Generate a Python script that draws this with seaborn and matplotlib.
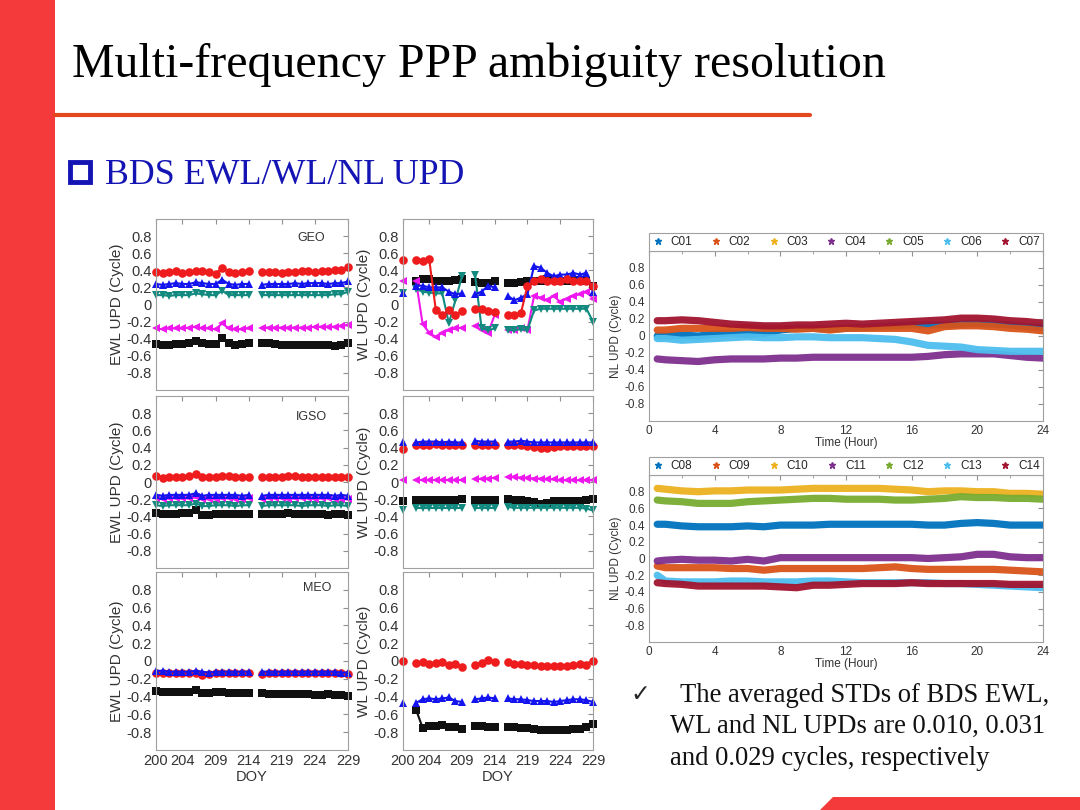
import pandas as pd
import matplotlib
matplotlib.use('Agg')
import matplotlib.pyplot as plt
from matplotlib.lines import Line2D
from matplotlib.patches import Rectangle, Polygon
import seaborn as sns

N = None

# day of year for the left panels
doy = list(range(200, 230))

# EWL UPD, GEO
ewl_geo_red = [.38, .37, .38, .39, .37, .38, .39, .39, .38, .36, .43, .38, .37, .38, .39, N,
               .38, .38, .38, .37, .38, .38, .39, .39, .38, .39, .39, .40, .40, .44]
ewl_geo_blue = [.24, .23, .24, .25, .24, .24, .26, .25, .24, .24, .29, .24, .23, .24, .24, N,
                .23, .24, .24, .24, .24, .25, .24, .25, .25, .25, .24, .25, .25, .27]
ewl_geo_teal = [.11, .11, .10, .11, .11, .11, .13, .12, .11, .11, .16, .11, .11, .11, .11, N,
                .11, .11, .11, .11, .11, .11, .11, .11, .11, .11, .11, .12, .12, .15]
ewl_geo_mag = [-.28, -.29, -.28, -.28, -.28, -.27, -.26, -.28, -.28, -.29, -.22, -.28, -.29, -.29, -.28, N,
               -.27, -.27, -.27, -.27, -.27, -.27, -.27, -.27, -.26, -.26, -.26, -.26, -.25, -.24]
ewl_geo_black = [-.46, -.47, -.47, -.46, -.46, -.45, -.43, -.45, -.46, -.46, -.39, -.45, -.47, -.46, -.45, N,
                 -.45, -.45, -.46, -.47, -.47, -.47, -.47, -.47, -.47, -.47, -.47, -.48, -.47, -.45]

# WL UPD, GEO
wl_geo_red = [.52, N, .52, .51, .53, -.06, -.12, -.07, -.12, -.08, N, -.05, -.05, -.08, -.09, N,
              -.12, -.12, -.10, .22, .27, .30, .28, .27, .28, .30, .27, .28, .27, .22]
wl_geo_blue = [.14, N, .22, .22, .20, .20, .20, .15, .12, .13, N, .12, .15, .22, .20, N,
               .10, .05, .08, .12, .45, .43, .37, .33, .35, .35, .37, .35, .37, .15]
wl_geo_teal = [.13, N, .18, .15, .14, .13, .13, -.22, .05, .33, N, .35, -.28, -.30, -.28, N,
               -.30, -.30, -.29, -.30, -.07, -.05, -.05, -.05, -.05, -.05, -.05, -.05, -.05, -.20]
wl_geo_mag = [.28, N, .27, -.23, -.33, -.38, -.33, -.30, -.28, -.27, N, -.25, -.30, -.33, -.12, N,
              -.30, -.30, -.27, -.30, .10, .08, .05, .10, .03, .07, .10, .12, .15, .07]
wl_geo_black = [N, N, .27, .30, .30, .27, .28, .28, .29, .30, N, .26, .25, .25, .27, N,
                .25, .25, .26, .27, .27, .28, .30, .29, .28, .28, .29, .29, .28, .22]

# EWL UPD, IGSO
ewl_igso_red = [.07, .05, .06, .06, .06, .07, .09, .06, .06, .06, .07, .07, .06, .06, .06, N,
                .06, .06, .06, .06, .07, .07, .06, .06, .06, .06, .06, .06, .06, .06]
ewl_igso_blue = [-.15, -.16, -.15, -.15, -.15, -.15, -.13, -.16, -.15, -.15, -.15, -.15, -.15, -.16, -.15, N,
                 -.16, -.15, -.15, -.15, -.15, -.15, -.15, -.15, -.15, -.15, -.15, -.16, -.15, -.16]
ewl_igso_mag = [-.19, -.20, -.19, -.19, -.19, -.19, -.18, -.20, -.20, -.20, -.19, -.19, -.20, -.20, -.19, N,
                -.20, -.19, -.19, -.19, -.20, -.19, -.19, -.19, -.20, -.19, -.19, -.20, -.20, -.20]
ewl_igso_teal = [-.27, -.28, -.27, -.27, -.27, -.27, -.25, -.28, -.28, -.27, -.27, -.27, -.28, -.27, -.27, N,
                 -.28, -.27, -.27, -.27, -.27, -.27, -.28, -.27, -.27, -.27, -.28, -.27, -.27, -.28]
ewl_igso_black = [-.36, -.37, -.37, -.37, -.36, -.36, -.33, -.38, -.38, -.37, -.37, -.37, -.37, -.37, -.37, N,
                  -.37, -.37, -.37, -.37, -.36, -.37, -.37, -.37, -.37, -.37, -.38, -.37, -.37, -.38]

# WL UPD, IGSO
wl_igso_blue = [.46, N, .46, .47, .47, .47, .46, .47, .46, .46, N, .48, .47, .47, .47, N,
                .47, .47, .48, .47, .46, .46, .46, .46, .46, .46, .46, .46, .46, .46]
wl_igso_red = [.38, N, .43, .43, .43, .44, .43, .43, .43, .43, N, .43, .43, .43, .43, N,
               .43, .43, .43, .42, .41, .40, .40, .41, .42, .42, .42, .42, .42, .42]
wl_igso_mag = [.02, N, .02, .02, .02, .02, .02, .02, .02, .02, N, .03, .04, .04, .05, N,
               .06, .06, .05, .05, .04, .04, .03, .03, .02, .02, .02, .02, .02, .02]
wl_igso_black = [-.22, N, -.21, -.21, -.21, -.21, -.21, -.21, -.21, -.20, N, -.21, -.21, -.21, -.21, N,
                 -.20, -.21, -.21, -.22, -.23, -.25, -.24, -.22, -.22, -.22, -.22, -.22, -.21, -.20]
wl_igso_teal = [-.33, N, -.30, -.30, -.30, -.30, -.30, -.30, -.30, -.30, N, -.30, -.30, -.30, -.30, N,
                -.29, -.30, -.30, -.30, -.30, -.30, -.30, -.30, -.30, -.30, -.30, -.30, -.31, -.33]

# EWL UPD, MEO
ewl_meo_red = [-.13, -.14, -.14, -.14, -.14, -.14, -.13, -.16, -.15, -.14, -.14, -.14, -.14, -.14, -.14, N,
               -.15, -.14, -.14, -.14, -.14, -.14, -.14, -.14, -.14, -.14, -.14, -.14, -.14, -.15]
ewl_meo_blue = [-.11, -.11, -.12, -.12, -.12, -.12, -.11, -.12, -.13, -.12, -.12, -.12, -.12, -.12, -.12, N,
                -.12, -.12, -.12, -.12, -.12, -.12, -.12, -.12, -.12, -.12, -.12, -.12, -.13, -.13]
ewl_meo_black = [-.34, -.35, -.35, -.35, -.35, -.35, -.33, -.36, -.36, -.35, -.35, -.36, -.36, -.36, -.36, N,
                 -.36, -.37, -.37, -.37, -.37, -.37, -.37, -.37, -.38, -.38, -.37, -.38, -.38, -.39]

# WL UPD, MEO
wl_meo_red = [.00, N, -.02, -.01, -.03, -.02, -.01, -.05, -.03, -.07, N, -.04, -.02, .01, -.01, N,
              -.01, -.03, -.03, -.04, -.05, -.06, -.06, -.06, -.06, -.06, -.05, -.03, -.04, .00]
wl_meo_blue = [-.47, N, -.47, -.43, -.42, -.43, -.42, -.41, -.45, -.46, N, -.43, -.42, -.41, -.42, N,
               -.42, -.43, -.43, -.44, -.45, -.45, -.45, -.46, -.45, -.44, -.43, -.43, -.44, -.46]
wl_meo_black = [N, N, -.55, -.75, -.73, -.73, -.72, -.74, -.74, -.76, N, -.73, -.73, -.74, -.74, N,
                -.74, -.74, -.75, -.75, -.76, -.77, -.77, -.78, -.77, -.77, -.76, -.76, -.74, -.71]

# NL UPD, hours of day
hours = [0.5, 1, 2, 3, 4, 5, 6, 7, 8, 9, 10, 11, 12, 13, 14, 15, 16, 17, 18, 19, 20, 21, 22, 23, 24]
c01 = [.00, .00, .01, .00, .02, .03, .02, .03, .07, .09, .09, .08, .09, .10, .11, .12, .13, .13, .13, .14, .15, .14, .13, .11, .10]
c02 = [.07, .07, .09, .09, .09, .09, .10, .09, .09, .08, .09, .07, .09, .09, .09, .09, .09, .06, .11, .12, .12, .11, .09, .08, .06]
c04 = [-.27, -.28, -.29, -.30, -.28, -.27, -.27, -.27, -.26, -.26, -.25, -.25, -.25, -.25, -.25, -.25, -.25, -.24, -.22, -.21, -.21, -.21, -.23, -.25, -.26]
c06 = [-.03, -.03, -.05, -.04, -.03, -.02, -.01, -.02, -.02, -.01, -.01, -.02, -.02, -.02, -.03, -.04, -.07, -.11, -.12, -.13, -.16, -.17, -.18, -.18, -.18]
c07 = [.18, .18, .19, .18, .16, .14, .13, .12, .12, .13, .13, .14, .15, .14, .15, .16, .17, .18, .19, .21, .21, .20, .18, .17, .15]
c08 = [.41, .41, .39, .38, .38, .38, .39, .38, .40, .40, .40, .41, .41, .41, .41, .41, .41, .40, .40, .42, .43, .42, .40, .40, .40]
c09 = [-.09, -.11, -.11, -.11, -.11, -.12, -.12, -.14, -.12, -.12, -.12, -.12, -.12, -.12, -.11, -.10, -.12, -.13, -.13, -.13, -.13, -.13, -.14, -.15, -.16]
c10 = [.84, .83, .81, .80, .81, .81, .82, .82, .82, .83, .84, .84, .84, .84, .84, .83, .82, .80, .81, .81, .80, .80, .78, .78, .77]
c11 = [-.03, -.02, -.01, -.02, -.02, -.03, -.01, -.03, .01, .01, .01, .01, .01, .01, .01, .01, .01, .00, .01, .02, .05, .05, .02, .01, .01]
c12 = [.70, .69, .68, .66, .66, .66, .68, .69, .70, .71, .72, .72, .71, .71, .71, .70, .70, .71, .72, .74, .73, .73, .72, .72, .71]
c13 = [-.20, -.27, -.28, -.28, -.28, -.27, -.27, -.28, -.28, -.28, -.27, -.27, -.28, -.29, -.29, -.29, -.29, -.29, -.30, -.30, -.31, -.32, -.33, -.34, -.35]
c14 = [-.29, -.30, -.31, -.33, -.33, -.33, -.33, -.33, -.34, -.35, -.32, -.32, -.31, -.30, -.30, -.30, -.29, -.30, -.30, -.30, -.30, -.30, -.31, -.31, -.31]

sat_top = ['C01', 'C02', 'C03', 'C04', 'C05', 'C06', 'C07']
sat_bot = ['C08', 'C09', 'C10', 'C11', 'C12', 'C13', 'C14']
mat_colors = ['#0072BD', '#D95319', '#EDB120', '#7E2F8E', '#77AC30', '#4DBEEE', '#A2142F']

ser_colors = {'red': '#ee1c1c', 'blue': '#1414ee', 'teal': '#128a80', 'mag': '#ee18ee', 'black': '#101010'}
ser_markers = {'red': 'o', 'blue': '^', 'teal': 'v', 'mag': '<', 'black': 's'}
day_ticks = [200, 204, 209, 214, 219, 224, 229]
y_ticks = [-0.8, -0.6, -0.4, -0.2, 0, 0.2, 0.4, 0.6, 0.8]
y_labels = ['-0.8', '-0.6', '-0.4', '-0.2', '0', '0.2', '0.4', '0.6', '0.8']

sns.set_style('white')
plt.rcParams['font.family'] = ['Liberation Sans', 'DejaVu Sans']

W, H = 1080, 810
fig = plt.figure(figsize=(10.8, 8.1), dpi=100)
fig.patch.set_facecolor('white')


def fbox(x0, y0, x1, y1):
    # pixel box (top-left origin) -> figure fraction rect
    return [x0 / W, 1 - y1 / H, (x1 - x0) / W, (y1 - y0) / H]


def panel_frame(series):
    rows = []
    for name, vals in series:
        seg = 0
        for d, v in zip(doy, vals):
            if v is None:
                seg += 1
                continue
            rows.append((d, v, name, seg))
    return pd.DataFrame(rows, columns=['DOY', 'UPD', 'ser', 'seg'])


def style_ax(ax, fs):
    for sp in ax.spines.values():
        sp.set_color('#a0a0a0')
        sp.set_linewidth(0.8)
    ax.tick_params(which='both', direction='in', top=True, right=True, color='#909090',
                   labelcolor='#333333', labelsize=fs, pad=3)
    ax.tick_params(which='major', length=3.5)
    ax.tick_params(which='minor', length=2)


panels = [
    ('EWL', 'GEO', fbox(156, 219, 348, 390), [('black', ewl_geo_black), ('mag', ewl_geo_mag), ('teal', ewl_geo_teal), ('blue', ewl_geo_blue), ('red', ewl_geo_red)], (0.81, 0.89)),
    ('WL', None, fbox(403, 219, 593, 390), [('black', wl_geo_black), ('mag', wl_geo_mag), ('teal', wl_geo_teal), ('blue', wl_geo_blue), ('red', wl_geo_red)], None),
    ('EWL', 'IGSO', fbox(156, 396, 348, 568), [('black', ewl_igso_black), ('teal', ewl_igso_teal), ('mag', ewl_igso_mag), ('blue', ewl_igso_blue), ('red', ewl_igso_red)], (0.81, 0.88)),
    ('WL', None, fbox(403, 396, 593, 568), [('black', wl_igso_black), ('teal', wl_igso_teal), ('mag', wl_igso_mag), ('red', wl_igso_red), ('blue', wl_igso_blue)], None),
    ('EWL', 'MEO', fbox(156, 572, 348, 750), [('black', ewl_meo_black), ('red', ewl_meo_red), ('blue', ewl_meo_blue)], (0.84, 0.91)),
    ('WL', None, fbox(403, 572, 593, 750), [('black', wl_meo_black), ('red', wl_meo_red), ('blue', wl_meo_blue)], None),
]

for i, (kind, tag, rect, series, tpos) in enumerate(panels):
    ax = fig.add_axes(rect)
    df = panel_frame(series)
    order = [s for s, _ in series]
    sns.lineplot(data=df, x='DOY', y='UPD', hue='ser', style='ser', units='seg', estimator=None,
                 hue_order=order, style_order=order, palette=ser_colors, markers=ser_markers,
                 dashes=False, legend=False, ax=ax, lw=1.5, markersize=6.2,
                 markeredgewidth=0, clip_on=False)
    ax.set_xlim(200, 229)
    ax.set_ylim(-1, 1)
    ax.set_xticks(day_ticks)
    ax.set_yticks(y_ticks)
    ax.set_yticklabels(y_labels)
    style_ax(ax, 10.5)
    ax.set_ylabel(kind + ' UPD (Cycle)', fontsize=11, color='#333333', labelpad=2)
    if i >= 4:
        ax.set_xlabel('DOY', fontsize=10.5, color='#333333', labelpad=1)
    else:
        ax.set_xlabel('')
        ax.set_xticklabels([])
    if tag:
        ax.text(tpos[0], tpos[1], tag, transform=ax.transAxes, ha='center', va='center',
                fontsize=9, color='#333333')

# NL UPD panels
nl_panels = [
    (fbox(649, 251, 1043, 421), sat_top, [('C01', c01), ('C02', c02), ('C04', c04), ('C06', c06), ('C07', c07)]),
    (fbox(649, 475, 1043, 642), sat_bot, [('C08', c08), ('C09', c09), ('C10', c10), ('C11', c11),
                                          ('C12', c12), ('C13', c13), ('C14', c14)]),
]

for rect, sats, series in nl_panels:
    ax = fig.add_axes(rect)
    pal = dict(zip(sats, mat_colors))
    rows = []
    for s, vals in series:
        for h, u in zip(hours, vals):
            rows.append((h, u, s))
    df = pd.DataFrame(rows, columns=['Hour', 'NL', 'sat'])
    sns.lineplot(data=df, x='Hour', y='NL', hue='sat', hue_order=[s for s, _ in series],
                 palette=pal, estimator=None, legend=False, ax=ax, lw=5.2, alpha=0.95)
    ax.set_xlim(0, 24)
    ax.set_ylim(-1, 1)
    ax.set_xticks([0, 4, 8, 12, 16, 20, 24])
    ax.set_xticks([2, 6, 10, 14, 18, 22], minor=True)
    ax.set_yticks(y_ticks)
    ax.set_yticklabels(y_labels)
    style_ax(ax, 8.5)
    ax.set_xlabel('Time (Hour)', fontsize=8.5, color='#333333', labelpad=0)
    ax.set_ylabel('NL UPD (Cycle)', fontsize=8.5, color='#333333', labelpad=2)
    handles = [Line2D([0], [0], ls='', marker='*', ms=5, color=pal[s]) for s in sats]
    leg = ax.legend(handles, sats, ncol=7, loc='lower left', bbox_to_anchor=(0, 1.0, 1, 0.1),
                    mode='expand', borderaxespad=0, fancybox=False, fontsize=8.5,
                    handlelength=1.0, handletextpad=0.6, borderpad=0.25, framealpha=1)
    leg.get_frame().set_edgecolor('#a0a0a0')
    leg.get_frame().set_linewidth(0.8)

# slide decoration
red = '#f43a3a'
fig.add_artist(Rectangle((0, 0), 55 / W, 1, transform=fig.transFigure, color=red, lw=0))
fig.add_artist(Line2D([55 / W, 810 / W], [1 - 115 / H, 1 - 115 / H], transform=fig.transFigure,
                      color='#e4481f', lw=3))
fig.add_artist(Polygon([(833 / W, 1 - 797 / H), (1, 1 - 797 / H), (1, 0), (820 / W, 0)],
                       closed=True, transform=fig.transFigure, color=red, lw=0))

fig.text(72 / W, 1 - 77 / H, 'Multi-frequency PPP ambiguity resolution', fontsize=34.5,
         family='Liberation Serif', va='baseline', color='black')

blue = '#1414b4'
fig.add_artist(Rectangle((70 / W, 1 - 182 / H), 20 / W, 20 / H, transform=fig.transFigure,
                         fill=False, ec=blue, lw=3.5))
fig.text(105 / W, 1 - 184 / H, 'BDS EWL/WL/NL UPD', fontsize=25.8,
         family='Liberation Serif', va='baseline', color=blue)

fig.text(630 / W, 1 - 701 / H, '\u2713', fontsize=17, family=['DejaVu Sans'], va='baseline')
note = ['The averaged STDs of BDS EWL,', 'WL and NL UPDs are 0.010, 0.031', 'and 0.029 cycles, respectively']
for k, (xx, yy) in enumerate([(680, 702), (670, 733), (670, 765)]):
    fig.text(xx / W, 1 - yy / H, note[k], fontsize=19.2, family='Liberation Serif',
             va='baseline', color='#111111')

fig.savefig('out.png', dpi=100)
